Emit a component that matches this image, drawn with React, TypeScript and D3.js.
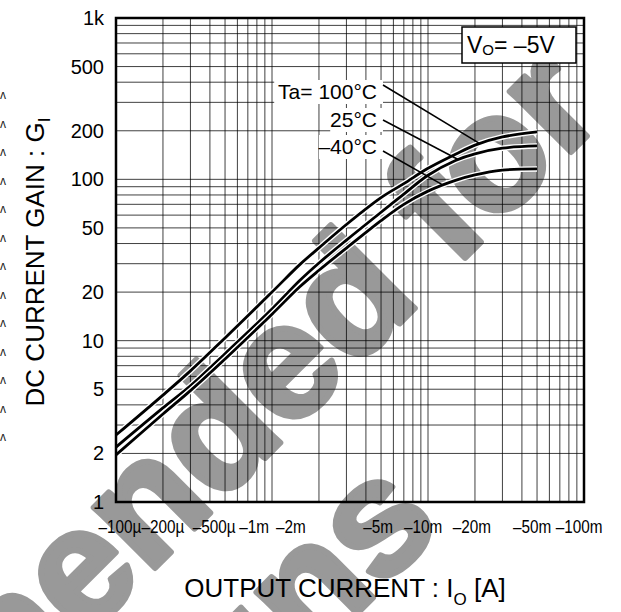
import React from 'react';
import * as d3 from 'd3';

const W = 621;
const H = 612;

// Output current |I_O| in A (axis labelled negative)
const currents = [1e-4, 2e-4, 3e-4, 5e-4, 1e-3, 1.5e-3, 2e-3, 3e-3, 5e-3, 7e-3, 1e-2, 1.5e-2, 2e-2, 3e-2, 5e-2];
const gain100 = [2.6, 4.6, 6.5, 10.4, 20, 29.5, 37.6, 52.5, 77, 94, 117, 143, 163, 183, 197];
const gain25 = [2.19, 3.83, 5.25, 8.3, 15.7, 23.5, 30.3, 42, 62.5, 81, 106, 131, 144, 156, 161];
const gainM40 = [1.96, 3.51, 4.9, 7.7, 14.6, 21.5, 27.3, 37.5, 55.5, 70, 84.5, 98.5, 106.5, 114, 116];
const seriesNames = ['Ta= 100°C', '25°C', '–40°C'];
const leaderCurrents = [0.0215, 0.0156, 0.0125];

const xTickValues = [1e-4, 2e-4, 5e-4, 1e-3, 2e-3, 5e-3, 1e-2, 2e-2, 5e-2, 1e-1];
const xTickLabels = ['–100µ', '–200µ', '–500µ', '–1m', '–2m', '–5m', '–10m', '–20m', '–50m', '–100m'];
const xTickNudge = [4, 0, -11, -18, -28, -3, -5, -3, -5, -5];
const yTickValues = [1, 2, 5, 10, 20, 50, 100, 200, 500, 1000];
const yTickLabels = ['1', '2', '5', '10', '20', '50', '100', '200', '500', '1k'];

const watermarkLines = ['Not Recommended for', 'New Designs'];

const FONT = "'Liberation Sans', Arial, Helvetica, sans-serif";

export default function App() {
  const left = 116, right = 584, top = 18, bottom = 502;
  const x = d3.scaleLog().domain([1e-4, 1e-1]).range([left, right]);
  const y = d3.scaleLog().domain([1, 1000]).range([bottom, top]);

  const gridX: number[] = [];
  for (let e = -4; e < -1; e++) for (let m = 1; m <= 9; m++) gridX.push(m * Math.pow(10, e));
  const gridY: number[] = [];
  for (let e = 0; e < 3; e++) for (let m = 1; m <= 9; m++) gridY.push(m * Math.pow(10, e));

  const series = [gain100, gain25, gainM40];
  const line = d3
    .line<[number, number]>()
    .x((d) => x(d[0]))
    .y((d) => y(d[1]))
    .curve(d3.curveCatmullRom.alpha(0.5));

  const interp = (vals: number[], c: number) => {
    const lc = Math.log10(c);
    for (let i = 0; i < currents.length - 1; i++) {
      const a = Math.log10(currents[i]);
      const b = Math.log10(currents[i + 1]);
      if (lc >= a && lc <= b) {
        const t = (lc - a) / (b - a);
        return Math.pow(10, Math.log10(vals[i]) * (1 - t) + Math.log10(vals[i + 1]) * t);
      }
    }
    return vals[vals.length - 1];
  };

  const labelRight = 377;
  const labelBase = [99, 127, 154];
  const leaderStartDy = [-14, -7, -3];

  const carets: number[] = d3.range(13).map((i) => 95 + i * 28.5);

  return (
    <svg
      width={W}
      height={H}
      viewBox={`0 0 ${W} ${H}`}
      style={{ position: 'absolute', left: 0, top: 0, background: '#fff' }}
      fontFamily={FONT}
    >
      <rect x={0} y={0} width={W} height={H} fill="#fff" />

      {/* watermark */}
      <g
        transform="translate(-10,733) rotate(-45)"
        fill="#999"
        stroke="#999"
        strokeWidth={6}
        strokeLinejoin="round"
        fontWeight="bold"
        fontSize={163}
        textAnchor="middle"
      >
        {watermarkLines.map((t, i) => (
          <text key={i} x={i * -40} y={i * 175}>
            {t}
          </text>
        ))}
      </g>

      {/* stray marks at left edge */}
      {carets.map((cy, i) => (
        <text key={i} x={3} y={cy} fontSize={12} fill="#222" textAnchor="middle" dominantBaseline="central">
          ʌ
        </text>
      ))}

      {/* grid */}
      <g stroke="#000" strokeWidth={1} strokeOpacity={0.75}>
        {gridX.map((v, i) => (
          <line key={'gx' + i} x1={x(v)} x2={x(v)} y1={top} y2={bottom} />
        ))}
        {gridY.map((v, i) => (
          <line key={'gy' + i} x1={left} x2={right} y1={y(v)} y2={y(v)} />
        ))}
      </g>

      {/* curves */}
      {series.map((vals, si) => {
        const pts = currents.map((c, i) => [c, vals[i]] as [number, number]);
        const d = line(pts) || '';
        return (
          <g key={si}>
            <path d={d} fill="none" stroke="#fff" strokeWidth={5.5} />
            <path d={d} fill="none" stroke="#000" strokeWidth={2.8} />
          </g>
        );
      })}

      {/* labels with leader lines */}
      {seriesNames.map((name, i) => {
        const lx = x(leaderCurrents[i]);
        const ly = y(interp(series[i], leaderCurrents[i]));
        const w = name.length * 11.2;
        return (
          <g key={name}>
            <rect x={labelRight - w - 2} y={labelBase[i] - 19} width={w + 8} height={24} fill="#fff" />
            <line x1={labelRight + 6} y1={labelBase[i] + leaderStartDy[i]} x2={lx} y2={ly} stroke="#000" strokeWidth={1.5} />
            <text x={labelRight} y={labelBase[i]} fontSize={21} textAnchor="end" fill="#000">
              {name}
            </text>
          </g>
        );
      })}

      {/* condition box */}
      <rect x={462} y={27} width={114} height={36} fill="#fff" stroke="#000" strokeWidth={1.5} />
      <text x={467} y={53} fontSize={23} fill="#000">
        V<tspan fontSize={15} dy={2}>O</tspan>
        <tspan dy={-2}>= –5V</tspan>
      </text>

      {/* frame */}
      <rect x={left} y={top} width={right - left} height={bottom - top} fill="none" stroke="#000" strokeWidth={2.5} />

      {/* y ticks */}
      {yTickValues.map((v, i) => (
        <text key={'yt' + i} x={104} y={y(v)} fontSize={20} textAnchor="end" dominantBaseline="central" fill="#000">
          {yTickLabels[i]}
        </text>
      ))}

      {/* x ticks */}
      {xTickValues.map((v, i) => (
        <text
          key={'xt' + i}
          transform={`translate(${x(v) + xTickNudge[i]},533) scale(0.85,1)`}
          fontSize={18}
          textAnchor="middle"
          fill="#000"
        >
          {xTickLabels[i]}
        </text>
      ))}

      {/* axis titles */}
      <text x={345} y={597} fontSize={26} textAnchor="middle" fill="#000">
        OUTPUT CURRENT : I<tspan fontSize={17} dy={8}>O</tspan>
        <tspan dy={-8}> [A]</tspan>
      </text>
      <text transform="translate(44,262) rotate(-90)" fontSize={26} textAnchor="middle" fill="#000">
        DC CURRENT GAIN : G<tspan fontSize={17} dy={6}>I</tspan>
      </text>
    </svg>
  );
}
